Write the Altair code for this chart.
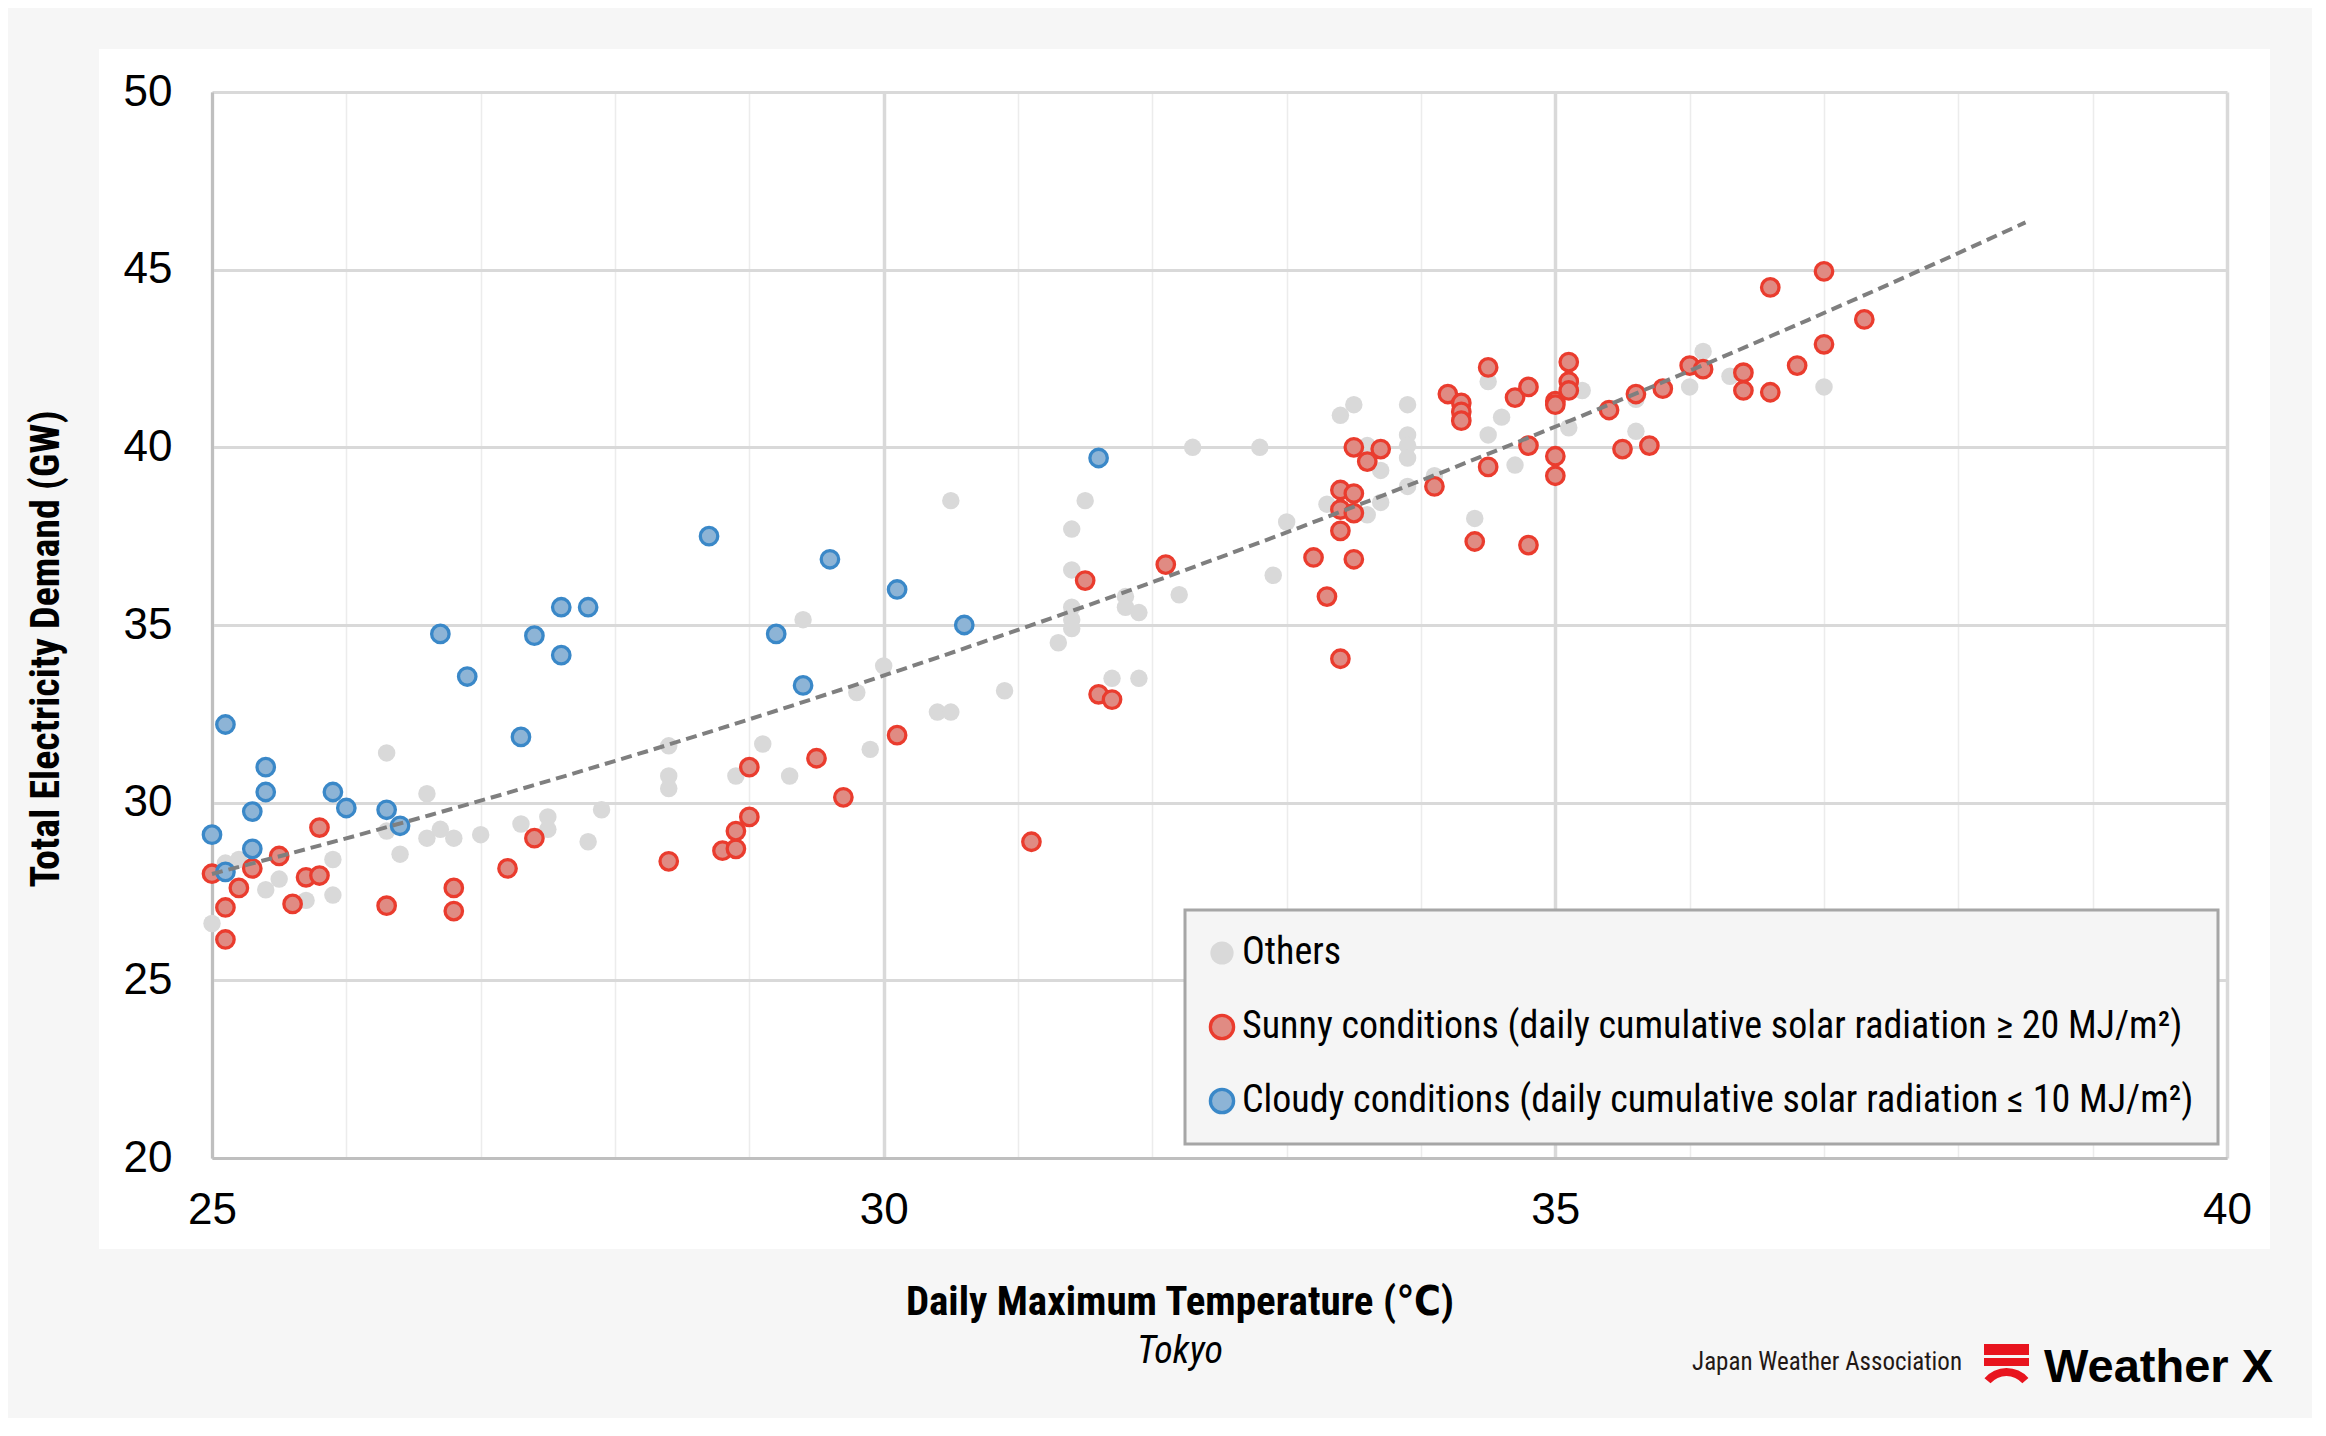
import altair as alt
import pandas as pd

# --- data ---
GROUPS = [
    "Others",
    "Sunny conditions (daily cumulative solar radiation ≥ 20 MJ/m²)",
    "Cloudy conditions (daily cumulative solar radiation ≤ 10 MJ/m²)",
]

others_temp = [25.0, 25.1, 25.2, 25.4, 25.5, 25.7, 25.9, 25.9, 26.3, 26.3, 26.4, 26.6, 26.6,
               26.7, 26.8, 27.0, 27.3, 27.5, 27.5, 27.8, 27.9, 28.4, 28.4, 28.4, 28.9,
               29.1, 29.3, 29.4, 29.8, 29.9, 30.0, 30.4, 30.5, 30.5, 30.9, 31.3, 31.4, 31.5,
               31.4, 31.4, 31.4, 31.4, 31.7, 31.8, 31.8, 31.9, 31.9, 32.2, 32.3, 32.8,
               33.0, 32.9, 33.4, 33.5, 33.6, 33.7, 33.6, 33.7, 33.3, 33.9, 33.9, 33.9, 33.9,
               33.9, 34.1, 34.4, 34.5, 34.5, 34.6, 34.7, 35.1, 35.2, 35.6,
               35.6, 36.0, 36.1, 36.3, 37.0]
others_demand = [26.6, 28.3, 28.4, 27.55, 27.85, 27.25, 28.4, 27.4, 31.4, 29.2, 28.55, 30.25, 29.0,
                 29.25, 29.0, 29.1, 29.4, 29.6, 29.25, 28.9, 29.8, 31.6, 30.75, 30.4, 30.75,
                 31.65, 30.75, 35.15, 33.1, 31.5, 33.85, 32.55, 32.55, 38.5, 33.15, 34.5, 37.7, 38.5,
                 36.55, 35.5, 35.15, 34.9, 33.5, 35.8, 35.5, 35.35, 33.5, 35.85, 40.0, 40.0,
                 37.9, 36.4, 40.9, 41.2, 40.05, 39.35, 38.1, 38.45, 38.4, 41.2, 40.35, 40.05, 39.7,
                 38.9, 39.2, 38.0, 41.85, 40.35, 40.85, 39.5, 40.55, 41.6, 40.45,
                 41.35, 41.7, 42.7, 42.0, 41.7]

sunny_temp = [25.0, 25.1, 25.1, 25.2, 25.3, 25.5, 25.6, 25.7, 25.8, 25.8, 26.3, 26.8, 26.8,
              27.2, 27.4, 28.4, 28.8, 28.9, 28.9, 29.0, 29.0, 29.5, 29.7, 30.1, 31.1, 31.5,
              31.6, 31.7, 32.1, 33.4, 33.3, 33.2, 33.5, 33.4, 33.4, 33.5, 33.4, 33.5, 33.5,
              33.7, 33.6, 34.1, 34.2, 34.3, 34.3, 34.3, 34.4, 34.5, 34.5, 34.7, 34.8, 34.8,
              34.8, 35.0, 35.0, 35.0, 35.0, 35.1, 35.1, 35.1, 35.4, 35.5, 35.6, 35.7, 35.8,
              36.0, 36.1, 36.4, 36.4, 36.6, 36.6, 36.8, 37.0, 37.0, 37.3]
sunny_demand = [28.0, 27.05, 26.15, 27.6, 28.15, 28.5, 27.15, 27.9, 27.95, 29.3, 27.1, 27.6, 26.95,
                28.15, 29.0, 28.35, 28.65, 28.7, 29.2, 29.6, 31.0, 31.25, 30.15, 31.9, 28.9, 36.25,
                33.05, 32.9, 36.7, 34.05, 35.8, 36.9, 36.85, 37.65, 38.25, 38.15, 38.8, 38.7, 40.0,
                39.95, 39.6, 38.9, 41.5, 41.25, 41.0, 40.75, 37.35, 42.25, 39.45, 41.4, 41.7, 40.05,
                37.25, 41.3, 41.2, 39.75, 39.2, 42.4, 41.85, 41.6, 41.05, 39.95, 41.5, 40.05, 41.65,
                42.3, 42.2, 42.1, 41.6, 41.55, 44.5, 42.3, 44.95, 42.9, 43.6]

cloudy_temp = [25.0, 25.1, 25.1, 25.3, 25.3, 25.4, 25.4, 25.9, 26.0, 26.3, 26.4, 26.7, 26.9,
               27.3, 27.4, 27.6, 27.6, 27.8, 28.7, 29.2, 29.4, 29.6, 30.1, 30.6, 31.6]
cloudy_demand = [29.1, 32.2, 28.05, 29.75, 28.7, 31.0, 30.3, 30.3, 29.85, 29.8, 29.35, 34.75, 33.55,
                 31.85, 34.7, 34.15, 35.5, 35.5, 37.5, 34.75, 33.3, 36.85, 36.0, 35.0, 39.7]

x_ticks = list(range(25, 41))
y_ticks = [20, 25, 30, 35, 40, 45, 50]

fills = ["#d9d9d9", "#e08b83", "#8db4d6"]
strokes = ["transparent", "#ea3c2e", "#3a88c8"]

rows = []
for g, ts, ds in [(GROUPS[0], others_temp, others_demand),
                  (GROUPS[1], sunny_temp, sunny_demand),
                  (GROUPS[2], cloudy_temp, cloudy_demand)]:
    rows += [{"temp": t, "demand": d, "group": g} for t, d in zip(ts, ds)]
df = pd.DataFrame(rows)

W, H = 2015, 1066
NARROW = ("Liberation Sans Narrow, Arial Narrow, Roboto Condensed, "
          "Noto Sans Condensed, DejaVu Sans Condensed, Liberation Sans, sans-serif")
REG = "Liberation Sans, Arial, sans-serif"

x = alt.X("temp:Q", scale=alt.Scale(domain=[25, 40], nice=False, zero=False),
          axis=alt.Axis(values=x_ticks, title=None, ticks=False, labelFlush=False,
                        labelExpr="datum.value % 5 === 0 ? datum.label : ''",
                        gridColor={"condition": {"test": "datum.value % 5 === 0", "value": "#d9d9d9"},
                                   "value": "#ececec"},
                        gridWidth={"condition": {"test": "datum.value % 5 === 0", "value": 3.5},
                                   "value": 1.5},
                        domainColor="#bfbfbf", domainWidth=3,
                        labelFont=REG, labelFontSize=44, labelColor="black", labelPadding=30))
y = alt.Y("demand:Q", scale=alt.Scale(domain=[20, 50], nice=False, zero=False),
          axis=alt.Axis(values=y_ticks, title=None, ticks=False,
                        gridColor="#d9d9d9", gridWidth=3,
                        domainColor="#bfbfbf", domainWidth=3,
                        labelFont=REG, labelFontSize=44, labelColor="black", labelPadding=40))

points = alt.Chart(df).mark_circle(size=305, strokeWidth=3.3, opacity=1).encode(
    x=x, y=y,
    fill=alt.Fill("group:N", scale=alt.Scale(domain=GROUPS, range=fills),
                  legend=alt.Legend(orient="none", legendX=973, legendY=818, title=None,
                                    fillColor="#f5f5f5", strokeColor="#a6a6a6",
                                    padding=24, rowPadding=36, symbolSize=540,
                                    symbolStrokeWidth=3.3, symbolType="circle",
                                    symbolOffset=-6,
                                    labelFont=NARROW, labelFontSize=38, labelColor="black",
                                    labelLimit=1500, labelOffset=1)),
    stroke=alt.Stroke("group:N", scale=alt.Scale(domain=GROUPS, range=strokes)),
)

trend = alt.Chart(df).transform_regression(
    "temp", "demand", method="poly", order=2, extent=[25, 38.5]
).mark_line(color="#7f7f7f", strokeWidth=4, strokeDash=[11, 6]).encode(x=x, y=y)

one = alt.Data(values=[{}])


def band(x1, x2, y1, y2, color="#f6f6f6"):
    return alt.Chart(one).mark_rect(color=color).encode(
        x=alt.value(x1), x2=alt.value(x2), y=alt.value(y1), y2=alt.value(y2))


def label(txt, xp, yp, **kw):
    return alt.Chart(one).mark_text(text=txt, **kw).encode(x=alt.value(xp), y=alt.value(yp))


frame = [
    band(-204, 2100, -84, -43),
    band(-204, 2100, 1157, 1330),
    band(-204, -113, -43, 1157),
    band(2058, 2100, -43, 1157),
]

texts = [
    label("Total Electricity Demand (GW)", -165, 557, angle=270, font=NARROW, fontSize=40,
          fontWeight="bold", align="center", baseline="middle", color="black"),
    label("Daily Maximum Temperature (℃)", 968, 1223, font=NARROW, fontSize=41,
          fontWeight="bold", align="center", baseline="alphabetic", color="black"),
    label("Tokyo", 968, 1271, font=NARROW, fontSize=38, fontStyle="italic",
          align="center", baseline="alphabetic", color="black"),
    label("Japan Weather Association", 1750, 1278, font=NARROW, fontSize=25,
          align="right", baseline="alphabetic", color="#231815"),
    label("Weather X", 1832, 1290, font=REG, fontSize=47, fontWeight="bold",
          align="left", baseline="alphabetic", color="black"),
]

logo = [
    band(1772, 1817, 1252, 1263, "#e8141e"),
    band(1772, 1817, 1266, 1274, "#e8141e"),
    alt.Chart(one).mark_arc(theta=5.42, theta2=7.14, radius=29, radius2=21, color="#e8141e").encode(
        x=alt.value(1794.5), y=alt.value(1305)),
]

chart = alt.layer(points, trend, *frame, *texts, *logo).properties(
    width=W, height=H,
    autosize=alt.AutoSizeParams(type="none"),
    padding={"left": 204, "top": 84, "right": 85, "bottom": 260},
).configure(background="white").configure_view(stroke=None).configure_legend(strokeWidth=3)

chart.save("out.html", embed_options={"renderer": "svg", "actions": False})
